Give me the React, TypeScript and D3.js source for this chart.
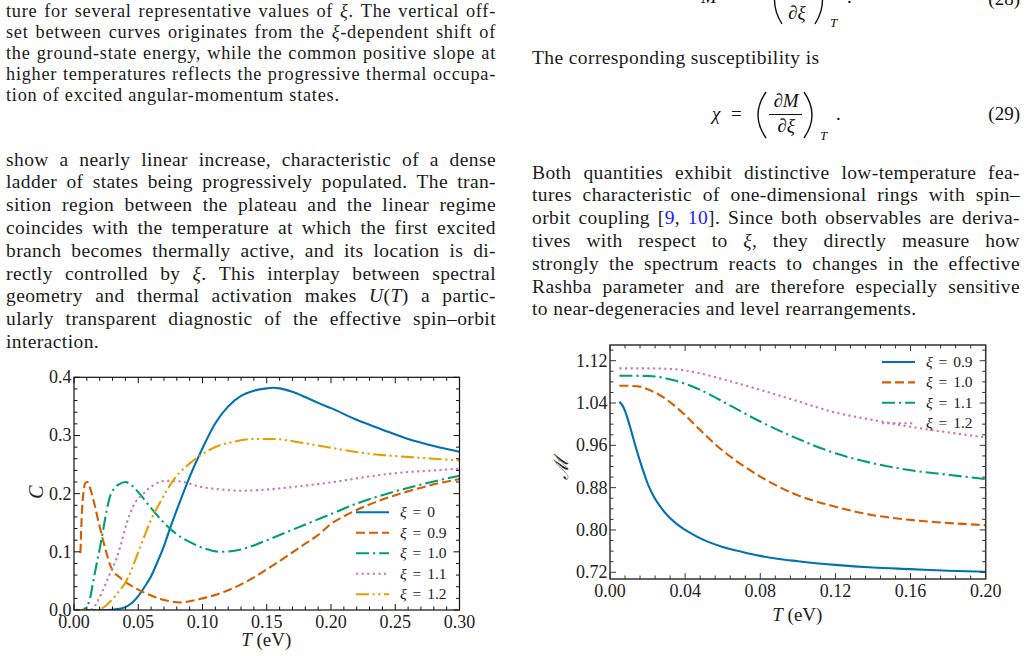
import React, { useLayoutEffect, useRef } from 'react';
import * as d3 from 'd3';

const SERIF = '"Liberation Serif", "DejaVu Serif", serif';

const BLUE = '#0072B2';
const VERM = '#D55E00';
const GREEN = '#009E73';
const PINK = '#CC79A7';
const GOLD = '#E69F00';

const SOLID = null;
const DASHED = '9 4';
const DASHDOT = '13 4 2.2 4';
const DOTTED = '2.2 3.4';
const DASHDOTDOT = '13 3.5 2.2 3.5 2.2 3.5';

// ---- heat capacity C(T) ----
const cT0 = [0, 0.02, 0.03, 0.035, 0.04, 0.045, 0.05, 0.055, 0.06, 0.065, 0.07, 0.075, 0.08, 0.09, 0.10, 0.11, 0.12, 0.13, 0.14, 0.15, 0.155, 0.16, 0.17, 0.18, 0.19, 0.20, 0.22, 0.24, 0.26, 0.28, 0.30];
const cXi0 = [0, 0, 0.0005, 0.002, 0.005, 0.012, 0.024, 0.04, 0.058, 0.083, 0.11, 0.142, 0.172, 0.229, 0.278, 0.321, 0.35, 0.368, 0.377, 0.381, 0.382, 0.381, 0.375, 0.366, 0.356, 0.347, 0.327, 0.31, 0.294, 0.282, 0.272];

const cT09 = [0.005, 0.006, 0.0075, 0.009, 0.0105, 0.012, 0.015, 0.02, 0.025, 0.028, 0.03, 0.035, 0.04, 0.046, 0.05, 0.06, 0.067, 0.075, 0.0825, 0.09, 0.10, 0.11, 0.12, 0.13, 0.14, 0.15, 0.16, 0.17, 0.18, 0.19, 0.20, 0.21, 0.22, 0.24, 0.26, 0.28, 0.30];
const cXi09 = [0.098, 0.16, 0.205, 0.219, 0.22, 0.213, 0.19, 0.143, 0.1, 0.078, 0.068, 0.057, 0.048, 0.04, 0.035, 0.025, 0.019, 0.015, 0.013, 0.015, 0.02, 0.026, 0.034, 0.044, 0.056, 0.07, 0.084, 0.099, 0.114, 0.129, 0.148, 0.161, 0.172, 0.19, 0.204, 0.216, 0.225];

const cT10 = [0, 0.006, 0.01, 0.0125, 0.015, 0.0177, 0.02, 0.0225, 0.0255, 0.028, 0.031, 0.035, 0.04, 0.045, 0.051, 0.06, 0.07, 0.08, 0.09, 0.10, 0.114, 0.13, 0.15, 0.17, 0.20, 0.22, 0.25, 0.28, 0.30];
const cXi10 = [0, 0, 0.006, 0.02, 0.05, 0.08, 0.105, 0.135, 0.172, 0.195, 0.208, 0.216, 0.22, 0.214, 0.2, 0.175, 0.15, 0.13, 0.117, 0.107, 0.1, 0.104, 0.12, 0.138, 0.165, 0.183, 0.204, 0.221, 0.231];

const cT11 = [0, 0.012, 0.016, 0.02, 0.024, 0.0285, 0.033, 0.036, 0.041, 0.046, 0.054, 0.062, 0.072, 0.0825, 0.098, 0.115, 0.13, 0.15, 0.176, 0.202, 0.228, 0.254, 0.28, 0.30];
const cXi11 = [0, 0, 0.006, 0.022, 0.042, 0.065, 0.088, 0.109, 0.149, 0.178, 0.2, 0.215, 0.222, 0.221, 0.212, 0.207, 0.205, 0.207, 0.213, 0.22, 0.229, 0.236, 0.24, 0.243];

const cT12 = [0, 0.018, 0.024, 0.028, 0.032, 0.036, 0.04, 0.044, 0.047, 0.051, 0.055, 0.059, 0.063, 0.067, 0.072, 0.077, 0.082, 0.088, 0.094, 0.10, 0.111, 0.124, 0.14, 0.155, 0.176, 0.202, 0.228, 0.254, 0.28, 0.30];
const cXi12 = [0, 0, 0.006, 0.014, 0.024, 0.035, 0.047, 0.065, 0.082, 0.105, 0.128, 0.15, 0.169, 0.185, 0.205, 0.222, 0.236, 0.248, 0.259, 0.268, 0.281, 0.289, 0.294, 0.294, 0.288, 0.278, 0.269, 0.264, 0.26, 0.257];

const cXTicks = [0, 0.05, 0.10, 0.15, 0.20, 0.25, 0.30];
const cYTicks = [0, 0.1, 0.2, 0.3, 0.4];

// ---- magnetization M(T) ----
const mT09 = [0.005, 0.0065, 0.008, 0.0095, 0.011, 0.0125, 0.014, 0.016, 0.018, 0.0205, 0.0235, 0.027, 0.031, 0.035, 0.04, 0.046, 0.052, 0.06, 0.07, 0.08, 0.09, 0.10, 0.12, 0.14, 0.16, 0.18, 0.20];
const mXi09 = [1.0425, 1.036, 1.025, 1.009, 0.991, 0.972, 0.953, 0.93, 0.908, 0.884, 0.862, 0.843, 0.826, 0.813, 0.8, 0.788, 0.778, 0.768, 0.759, 0.751, 0.745, 0.741, 0.734, 0.729, 0.726, 0.723, 0.721];

const mT10 = [0.005, 0.01, 0.016, 0.02, 0.025, 0.034, 0.04, 0.048, 0.0586, 0.069, 0.08, 0.0976, 0.12, 0.14, 0.16, 0.181, 0.20];
const mXi10 = [1.0728, 1.0725, 1.071, 1.066, 1.058, 1.036, 1.017, 0.989, 0.954, 0.926, 0.901, 0.869, 0.844, 0.828, 0.819, 0.813, 0.809];

const mT11 = [0.005, 0.021, 0.034, 0.048, 0.062, 0.08, 0.0976, 0.12, 0.14, 0.16, 0.181, 0.20];
const mXi11 = [1.0917, 1.091, 1.083, 1.065, 1.039, 1.005, 0.976, 0.945, 0.926, 0.913, 0.904, 0.896];

const mT12 = [0.005, 0.02, 0.034, 0.048, 0.062, 0.08, 0.0976, 0.12, 0.14, 0.16, 0.181, 0.20];
const mXi12 = [1.1055, 1.1055, 1.104, 1.096, 1.083, 1.065, 1.046, 1.022, 1.008, 0.995, 0.984, 0.975];

const mXTicks = [0, 0.04, 0.08, 0.12, 0.16, 0.20];
const mYTicks = [0.72, 0.80, 0.88, 0.96, 1.04, 1.12];

// ---- body text (_x_ = italic, ~x~ = citation link) ----
const captionTail = [
  'ture for several representative values of _ξ_. The vertical off-',
  'set between curves originates from the _ξ_-dependent shift of',
  'the ground-state energy, while the common positive slope at',
  'higher temperatures reflects the progressive thermal occupa-',
  'tion of excited angular-momentum states.',
];
const leftPara = [
  'show a nearly linear increase, characteristic of a dense',
  'ladder of states being progressively populated. The tran-',
  'sition region between the plateau and the linear regime',
  'coincides with the temperature at which the first excited',
  'branch becomes thermally active, and its location is di-',
  'rectly controlled by _ξ_.  This interplay between spectral',
  'geometry and thermal activation makes _U_(_T_) a partic-',
  'ularly transparent diagnostic of the effective spin–orbit',
  'interaction.',
];
const rightPara = [
  'Both quantities exhibit distinctive low-temperature fea-',
  'tures characteristic of one-dimensional rings with spin–',
  'orbit coupling [~9~, ~10~]. Since both observables are deriva-',
  'tives with respect to _ξ_, they directly measure how',
  'strongly the spectrum reacts to changes in the effective',
  'Rashba parameter and are therefore especially sensitive',
  'to near-degeneracies and level rearrangements.',
];

type Series = { label: string; t: number[]; v: number[]; color: string; dash: string | null };

const cSeries: Series[] = [
  { label: '0', t: cT0, v: cXi0, color: BLUE, dash: SOLID },
  { label: '0.9', t: cT09, v: cXi09, color: VERM, dash: DASHED },
  { label: '1.0', t: cT10, v: cXi10, color: GREEN, dash: DASHDOT },
  { label: '1.1', t: cT11, v: cXi11, color: PINK, dash: DOTTED },
  { label: '1.2', t: cT12, v: cXi12, color: GOLD, dash: DASHDOTDOT },
];
const mSeries: Series[] = [
  { label: '0.9', t: mT09, v: mXi09, color: BLUE, dash: SOLID },
  { label: '1.0', t: mT10, v: mXi10, color: VERM, dash: DASHED },
  { label: '1.1', t: mT11, v: mXi11, color: GREEN, dash: DASHDOT },
  { label: '1.2', t: mT12, v: mXi12, color: PINK, dash: DOTTED },
];

function Rich({ s }: { s: string }) {
  const parts = s.split(/(_[^_]+_|~[^~]+~)/).filter(p => p !== '');
  return (
    <>
      {parts.map((p, i) => {
        if (p.startsWith('_')) return <tspan key={i} fontStyle="italic">{p.slice(1, -1)}</tspan>;
        if (p.startsWith('~')) return <tspan key={i} fill="#1a1aff">{p.slice(1, -1)}</tspan>;
        return <tspan key={i}>{p}</tspan>;
      })}
    </>
  );
}

// one text line, justified to `width` by stretching the inter-word gaps
function Line({ s, x, y, width }: { s: string; x: number; y: number; width?: number }) {
  const ref = useRef<SVGTextElement>(null);
  useLayoutEffect(() => {
    const el = ref.current;
    if (!el || !width) return;
    el.removeAttribute('word-spacing');
    const natural = el.getComputedTextLength();
    const gaps = s.replace(/ +/g, ' ').split(' ').length - 1;
    if (gaps > 0) el.setAttribute('word-spacing', String((width - natural) / gaps));
  }, [s, width]);
  return (
    <text ref={ref} x={x} y={y}>
      <Rich s={s} />
    </text>
  );
}

function Paragraph({ lines, x, y0, dy, width, size, tracking }:
  { lines: string[]; x: number; y0: number; dy: number; width: number; size: number; tracking: number }) {
  return (
    <g fontFamily={SERIF} fontSize={size} letterSpacing={tracking} fill="#1a1a1a">
      {lines.map((l, i) => (
        <Line key={i} s={l} x={x} y={y0 + i * dy} width={i === lines.length - 1 ? undefined : width} />
      ))}
    </g>
  );
}

type PanelProps = {
  id: string;
  left: number; right: number; top: number; bottom: number;
  xDomain: [number, number]; yDomain: [number, number];
  xTicks: number[]; yTicks: number[];
  xMinorStep: number; yMinorStep: number; yMinorStart: number;
  xFmt: (v: number) => string; yFmt: (v: number) => string;
  series: Series[];
  legendX: number; legendY: number; legendDy: number;
  xLabelY: number; yLabel: string; yLabelX: number; yLabelY: number;
  frameColor: string; frameWidth: number;
};

function Panel(p: PanelProps) {
  const x = d3.scaleLinear().domain(p.xDomain).range([p.left, p.right]);
  const y = d3.scaleLinear().domain(p.yDomain).range([p.bottom, p.top]);
  const line = d3.line<[number, number]>()
    .x(d => x(d[0]))
    .y(d => y(d[1]))
    .curve(d3.curveMonotoneX);

  const eps = 1e-9;
  const xMinor = d3.range(p.xDomain[0], p.xDomain[1] + eps, p.xMinorStep)
    .filter(v => !p.xTicks.some(t => Math.abs(t - v) < 1e-5));
  const yMinor = d3.range(p.yMinorStart, p.yDomain[1] + eps, p.yMinorStep)
    .filter(v => v >= p.yDomain[0] && !p.yTicks.some(t => Math.abs(t - v) < 1e-5));

  const major = 6, minor = 3.5;
  const tc = p.frameColor;

  return (
    <g>
      <defs>
        <clipPath id={p.id}>
          <rect x={p.left} y={p.top} width={p.right - p.left} height={p.bottom - p.top} />
        </clipPath>
      </defs>

      <g clipPath={`url(#${p.id})`} fill="none" strokeWidth={2.1}>
        {p.series.map(s => (
          <path key={s.label}
            d={line(s.t.map((t, i) => [t, s.v[i]] as [number, number])) || ''}
            stroke={s.color}
            strokeDasharray={s.dash || undefined} />
        ))}
      </g>

      <g stroke={tc} strokeWidth={1}>
        {p.xTicks.map(t => (
          <g key={'xM' + t}>
            <line x1={x(t)} x2={x(t)} y1={p.bottom} y2={p.bottom - major} />
            <line x1={x(t)} x2={x(t)} y1={p.top} y2={p.top + major} />
          </g>
        ))}
        {xMinor.map(t => (
          <g key={'xm' + t}>
            <line x1={x(t)} x2={x(t)} y1={p.bottom} y2={p.bottom - minor} />
            <line x1={x(t)} x2={x(t)} y1={p.top} y2={p.top + minor} />
          </g>
        ))}
        {p.yTicks.map(t => (
          <g key={'yM' + t}>
            <line x1={p.left} x2={p.left + major} y1={y(t)} y2={y(t)} />
            <line x1={p.right} x2={p.right - major} y1={y(t)} y2={y(t)} />
          </g>
        ))}
        {yMinor.map(t => (
          <g key={'ym' + t}>
            <line x1={p.left} x2={p.left + minor} y1={y(t)} y2={y(t)} />
            <line x1={p.right} x2={p.right - minor} y1={y(t)} y2={y(t)} />
          </g>
        ))}
      </g>

      <rect x={p.left} y={p.top} width={p.right - p.left} height={p.bottom - p.top}
        fill="none" stroke={tc} strokeWidth={p.frameWidth} />

      <g fontFamily={SERIF} fontSize={18} fill="#222">
        {p.xTicks.map(t => (
          <text key={'xl' + t} x={x(t)} y={p.bottom + 17.5} textAnchor="middle">{p.xFmt(t)}</text>
        ))}
        {p.yTicks.map(t => (
          <text key={'yl' + t} x={p.left - 2.5} y={y(t) + 6} textAnchor="end">{p.yFmt(t)}</text>
        ))}
        <text x={(p.left + p.right) / 2 - 0.5} y={p.xLabelY} textAnchor="middle" fontSize={19}>
          <tspan fontStyle="italic">T</tspan> (eV)
        </text>
        <text transform={`translate(${p.yLabelX},${p.yLabelY}) rotate(-90)`} textAnchor="middle"
          dominantBaseline="central" fontStyle="italic" fontSize={20}>{p.yLabel}</text>
      </g>

      <g fontFamily={SERIF} fontSize={15.5} fill="#222" wordSpacing={2}>
        {p.series.map((s, i) => {
          const cy = p.legendY + i * p.legendDy;
          return (
            <g key={'lg' + s.label}>
              <line x1={p.legendX} x2={p.legendX + 33} y1={cy} y2={cy}
                stroke={s.color} strokeWidth={2.1} strokeDasharray={s.dash || undefined} />
              <text x={p.legendX + 44} y={cy + 5}>
                <tspan fontStyle="italic">ξ</tspan> = {s.label}
              </text>
            </g>
          );
        })}
      </g>
    </g>
  );
}

export default function App() {
  return (
    <svg width={1028} height={656} viewBox="0 0 1028 656"
      style={{ position: 'absolute', left: 0, top: 0, display: 'block', background: '#fff' }}>
      <rect width={1028} height={656} fill="#fff" />

      {/* left column */}
      <Paragraph lines={captionTail} x={6} y0={17} dy={21.1} width={490} size={18.3} tracking={0.75} />
      <Paragraph lines={leftPara} x={6} y0={165.5} dy={22.8} width={490} size={19.5} tracking={0.4} />

      {/* right column: tail of eq. (28) */}
      <g fontFamily={SERIF} fontSize={19} fill="#111">
        <text x={701} y={3} fontStyle="italic">M</text>
        <text x={720} y={3}>= −</text>
        <path d="M 782 -24 Q 767 0 782 24" fill="none" stroke="#111" strokeWidth={1.4} />
        <text x={788} y={19}>∂<tspan fontStyle="italic">ξ</tspan></text>
        <path d="M 815 -24 Q 830 0 815 24" fill="none" stroke="#111" strokeWidth={1.4} />
        <text x={830} y={27} fontSize={13} fontStyle="italic">T</text>
        <text x={847} y={3}>.</text>
        <text x={1020} y={5} textAnchor="end">(28)</text>
      </g>

      <Paragraph lines={['The corresponding susceptibility is']} x={532} y0={63.5} dy={0} width={303} size={19.5} tracking={0.4} />

      {/* eq. (29) */}
      <g fontFamily={SERIF} fontSize={19} fill="#111">
        <text x={712} y={120} fontStyle="italic">χ</text>
        <text x={731} y={120}>=</text>
        <path d="M 766 92 Q 750 115 766 138" fill="none" stroke="#111" strokeWidth={1.4} />
        <text x={786} y={107} textAnchor="middle">∂<tspan fontStyle="italic">M</tspan></text>
        <line x1={769} x2={802} y1={114.5} y2={114.5} stroke="#111" strokeWidth={1} />
        <text x={786} y={132} textAnchor="middle">∂<tspan fontStyle="italic">ξ</tspan></text>
        <path d="M 804 92 Q 820 115 804 138" fill="none" stroke="#111" strokeWidth={1.4} />
        <text x={820} y={140} fontSize={13} fontStyle="italic">T</text>
        <text x={836} y={120}>.</text>
        <text x={1020} y={120} textAnchor="end">(29)</text>
      </g>

      <Paragraph lines={rightPara} x={532} y0={178.5} dy={22.8} width={488} size={19.5} tracking={0.4} />

      <Panel id="clipC"
        left={74} right={459.5} top={377.3} bottom={610}
        xDomain={[0, 0.3]} yDomain={[0, 0.4]}
        xTicks={cXTicks} yTicks={cYTicks}
        xMinorStep={0.01} yMinorStep={0.02} yMinorStart={0}
        xFmt={d3.format('.2f')} yFmt={d3.format('.1f')}
        series={cSeries}
        legendX={356} legendY={512.3} legendDy={20.5}
        xLabelY={646} yLabel="C" yLabelX={36} yLabelY={492}
        frameColor="#111" frameWidth={1.2} />

      <Panel id="clipM"
        left={610} right={985.7} top={345} bottom={579}
        xDomain={[0, 0.2]} yDomain={[0.7073, 1.1497]}
        xTicks={mXTicks} yTicks={mYTicks}
        xMinorStep={0.008} yMinorStep={0.02} yMinorStart={0.72}
        xFmt={d3.format('.2f')} yFmt={d3.format('.2f')}
        series={mSeries}
        legendX={882} legendY={362} legendDy={20.4}
        xLabelY={621} yLabel="ℳ" yLabelX={561} yLabelY={468}
        frameColor="#333" frameWidth={1.5} />
    </svg>
  );
}
